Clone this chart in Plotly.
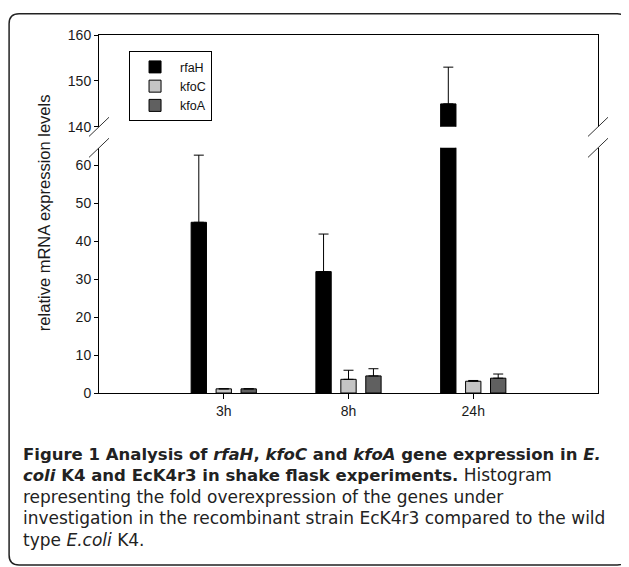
import plotly.graph_objects as go

# ---------------- data ----------------
categories = ["3h", "8h", "24h"]
series_names = ["rfaH", "kfoC", "kfoA"]
rfaH_values = [45.0, 32.0, 145.0]
rfaH_err = [17.7, 9.9, 8.0]
kfoC_values = [1.1, 3.6, 3.1]
kfoC_err = [0.0, 2.4, 0.2]
kfoA_values = [1.1, 4.5, 3.9]
kfoA_err = [0.0, 1.9, 1.1]
lower_ticks = [0, 10, 20, 30, 40, 50, 60]
upper_ticks = [140, 150, 160]
y_title = "relative mRNA expression levels"

values = {"rfaH": rfaH_values, "kfoC": kfoC_values, "kfoA": kfoA_values}
errors = {"rfaH": rfaH_err, "kfoC": kfoC_err, "kfoA": kfoA_err}
colors = {"rfaH": "#000000", "kfoC": "#c4c4c4", "kfoA": "#606060"}

# ---------------- layout geometry (screen pixels of the reference) ----------------
OFF = 8  # page body margin
WIN_W, WIN_H = 629, 567
W, H = WIN_W - OFF, WIN_H - OFF
L, R = 99.3 - OFF, 597.7 - OFF
T, B = 34.7 - OFF, 393.3 - OFF
PW, PH = R - L, B - T
lower_top_px = 147.7 - OFF
upper_bot_px = 126.7 - OFF


def px2x(px):
    return (px - OFF - L) / PW


def px2y(py):
    return (B - (py - OFF)) / PH


lower_dom = [0, (B - lower_top_px) / PH]
upper_dom = [(B - upper_bot_px) / PH, 1]

fig = go.Figure()
for name in series_names:
    for ax, show in (("y", True), ("y2", False)):
        fig.add_trace(go.Bar(
            x=categories, y=values[name], name=name,
            xaxis="x" if ax == "y" else "x2", yaxis=ax,
            showlegend=show, legendgroup=name,
            marker=dict(color=colors[name], line=dict(color="#000000", width=1)),
            error_y=dict(type="data", symmetric=False, array=errors[name],
                         arrayminus=[0] * len(categories),
                         color="#000000", thickness=1, width=5),
        ))

FONT = "Liberation Sans, Arial, sans-serif"
tickfont = dict(family=FONT, size=14, color="#1a1a1a")
axis_common = dict(showline=True, linecolor="#000000", linewidth=1, showgrid=False,
                   zeroline=False, ticks="outside", tickcolor="#000000",
                   tickfont=tickfont)

fig.update_layout(
    width=W, height=H, autosize=False,
    paper_bgcolor="white", plot_bgcolor="white",
    margin=dict(l=L, r=W - R, t=T, b=H - B, pad=0),
    barmode="group", bargap=0.4, bargroupgap=0.385,
    xaxis=dict(**axis_common, type="category", range=[-1, 3], anchor="y",
               categoryorder="array", categoryarray=categories, ticklen=5),
    xaxis2=dict(showline=True, linecolor="#000000", linewidth=1, showgrid=False,
                zeroline=False, type="category", range=[-1, 3], anchor="y2",
                side="top", matches="x", showticklabels=False, ticks=""),
    yaxis=dict(**axis_common, domain=lower_dom, range=[0, (B - lower_top_px) / 3.8],
               tickvals=lower_ticks, mirror=True, anchor="x", ticklen=4),
    yaxis2=dict(**axis_common, domain=upper_dom, range=[140, 160],
                tickvals=upper_ticks, mirror=True, anchor="x2", ticklen=4),
    legend=dict(x=px2x(129.3), y=px2y(51), xanchor="left", yanchor="top",
                bordercolor="#000000", borderwidth=1, bgcolor="white",
                font=dict(family=FONT, size=12.5, color="#111"),
                itemwidth=40, traceorder="normal", tracegroupgap=0),
    showlegend=True,
)

# axis-break marks
dx, dy = 10 / PW, 9.6 / PH
shapes = []
for xc in (0, 1):
    for yc in (upper_dom[0], lower_dom[1]):
        shapes.append(dict(type="line", xref="paper", yref="paper",
                           x0=xc - dx, y0=yc - dy, x1=xc + dx, y1=yc + dy,
                           line=dict(color="#333333", width=1)))

# outer rounded frame
fx0, fy0, fx1, fy1, r = 9.5, 13.5, 627.0, 565.5, 10


def P(px, py):
    return f"{px2x(px):.5f},{px2y(py):.5f}"


path = (f"M{P(fx0 + r, fy0)} L{P(fx1 - r, fy0)} Q{P(fx1, fy0)} {P(fx1, fy0 + r)} "
        f"L{P(fx1, fy1 - r)} Q{P(fx1, fy1)} {P(fx1 - r, fy1)} "
        f"L{P(fx0 + r, fy1)} Q{P(fx0, fy1)} {P(fx0, fy1 - r)} "
        f"L{P(fx0, fy0 + r)} Q{P(fx0, fy0)} {P(fx0 + r, fy0)} Z")
shapes.append(dict(type="path", xref="paper", yref="paper", path=path,
                   line=dict(color="#222222", width=1.5)))
fig.update_layout(shapes=shapes)

# y-axis title
fig.add_annotation(text=y_title, textangle=-90, xref="paper", yref="paper",
                   x=px2x(44), y=px2y(212.5), showarrow=False,
                   xanchor="center", yanchor="middle",
                   font=dict(family=FONT, size=16.5, color="#1a1a1a"))

# caption (one text block, 1.3em line spacing)
REG = '<span style="font-size:17px">'
caption_lines = [
    "<b>Figure 1 Analysis of <i>rfaH</i>, <i>kfoC</i> and <i>kfoA</i> gene expression in <i>E.</i></b>",
    "<b><i>coli</i> K4 and EcK4r3 in shake flask experiments.</b>" + REG + " Histogram</span>",
    REG + "representing the fold overexpression of the genes under</span>",
    REG + "investigation in the recombinant strain EcK4r3 compared to the wild</span>",
    REG + "type <i>E.coli</i> K4.</span>",
]
fig.add_annotation(text="<br>".join(caption_lines), xref="paper", yref="paper",
                   x=px2x(21), y=px2y(497.5), showarrow=False,
                   xanchor="left", yanchor="middle", align="left",
                   font=dict(family="DejaVu Sans, sans-serif", size=16.5, color="#222222"))

fig.write_html("out.html")
